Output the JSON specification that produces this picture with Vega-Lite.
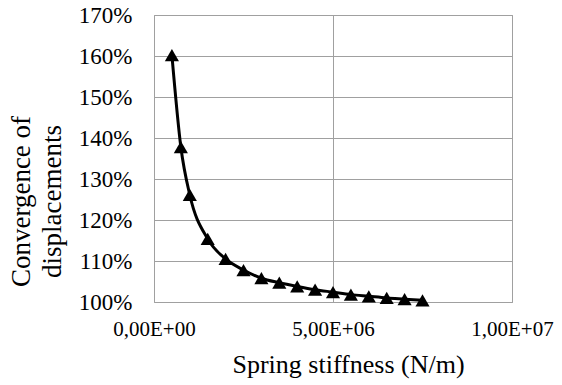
{
  "$schema": "https://vega.github.io/schema/vega-lite/v6.json",
  "width": 358,
  "height": 287,
  "autosize": {"type": "none"},
  "padding": {"left": 154, "top": 15, "right": 50, "bottom": 83},
  "background": "white",
  "config": {
    "font": "Liberation Serif",
    "view": {"stroke": "#a0a0a0", "strokeWidth": 1},
    "axis": {
      "labelFont": "Liberation Serif",
      "titleFont": "Liberation Serif",
      "labelColor": "black",
      "titleColor": "black",
      "titleFontWeight": "normal",
      "gridColor": "#a0a0a0",
      "gridWidth": 1,
      "gridOpacity": 1,
      "domain": false,
      "ticks": false,
      "labelFlush": false
    }
  },
  "data": {
    "values": [
      {"k": 500000, "c": 1.602},
      {"k": 750000, "c": 1.378},
      {"k": 1000000, "c": 1.261},
      {"k": 1500000, "c": 1.154},
      {"k": 2000000, "c": 1.105},
      {"k": 2500000, "c": 1.078},
      {"k": 3000000, "c": 1.058},
      {"k": 3500000, "c": 1.047},
      {"k": 4000000, "c": 1.038},
      {"k": 4500000, "c": 1.030},
      {"k": 5000000, "c": 1.024},
      {"k": 5500000, "c": 1.018},
      {"k": 6000000, "c": 1.014},
      {"k": 6500000, "c": 1.010},
      {"k": 7000000, "c": 1.007},
      {"k": 7500000, "c": 1.004}
    ]
  },
  "encoding": {
    "x": {
      "field": "k",
      "type": "quantitative",
      "scale": {"domain": [0, 10000000], "nice": false},
      "axis": {
        "values": [0, 5000000, 10000000],
        "grid": true,
        "labelFontSize": 21,
        "labelPadding": 16,
        "labelFlush": false,
        "labelExpr": "(datum.value == 0 ? '0,00E+00' : replace(format(datum.value / pow(10, floor(log(datum.value) / LN10)), '.2f'), '.', ',') + 'E+' + (floor(log(datum.value) / LN10) < 10 ? '0' : '') + floor(log(datum.value) / LN10))",
        "title": "Spring stiffness (N/m)",
        "titleFontSize": 26,
        "titlePadding": 12,
        "titleX": 194
      }
    },
    "y": {
      "field": "c",
      "type": "quantitative",
      "scale": {"domain": [1, 1.7], "nice": false, "zero": false},
      "axis": {
        "values": [1, 1.1, 1.2, 1.3, 1.4, 1.5, 1.6, 1.7],
        "format": ".0%",
        "grid": true,
        "labelFontSize": 23,
        "labelPadding": 22,
        "title": ["Convergence of", "displacements"],
        "titleFontSize": 27,
        "titleY": 186,
        "titlePadding": 12,
        "titleLineHeight": 31
      }
    }
  },
  "layer": [
    {
      "mark": {"type": "line", "color": "black", "strokeWidth": 3, "interpolate": "monotone"}
    },
    {
      "mark": {"type": "point", "shape": "triangle-up", "filled": true, "color": "black", "opacity": 1, "size": 200}
    }
  ]
}
